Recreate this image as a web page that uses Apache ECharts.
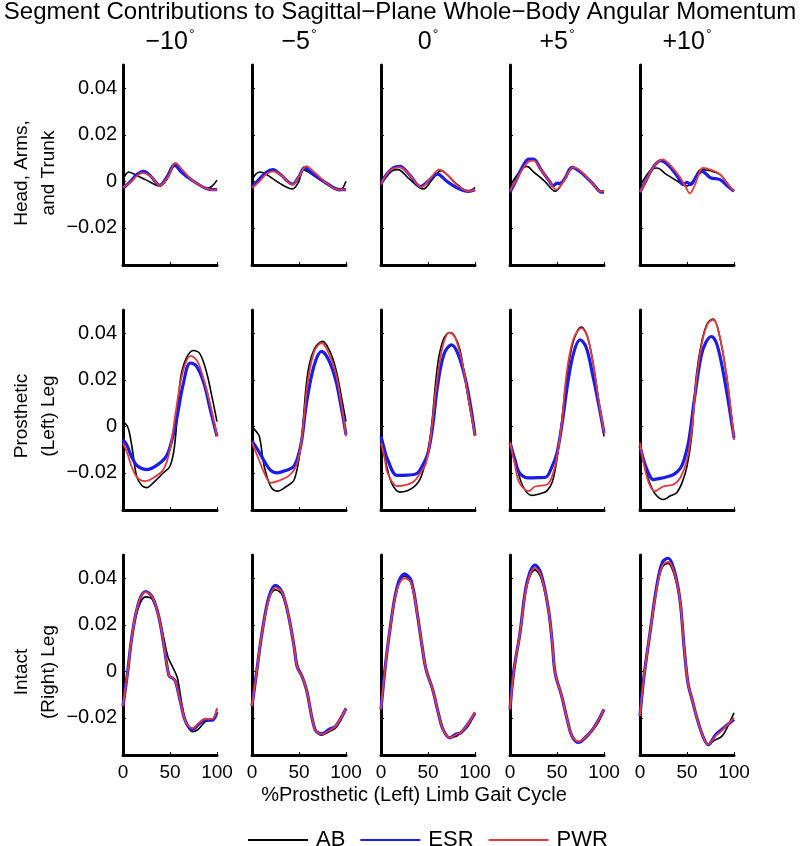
<!DOCTYPE html>
<html><head><meta charset="utf-8">
<script src="https://cdn.jsdelivr.net/npm/echarts@6/dist/echarts.min.js"></script>
<style>html,body{margin:0;padding:0;background:#fff}#c{width:800px;height:846px}</style>
</head><body><div id="c"></div>
<script>
// ---------- labels ----------
const mainTitle = 'Segment Contributions to Sagittal\u2212Plane Whole\u2212Body Angular Momentum';
const colTitles = ['\u221210', '\u22125', '0', '+5', '+10'];
const rowTitles = [['Head, Arms,', 'and Trunk'], ['Prosthetic', '(Left) Leg'], ['Intact', '(Right) Leg']];
const xAxisTitle = '%Prosthetic (Left) Limb Gait Cycle';
const seriesNames = ['AB', 'ESR', 'PWR'];
const yTicks = [-0.02, 0, 0.02, 0.04];
const xTicks = [0, 50, 100];

// ---------- data: [% gait cycle, angular momentum] ----------
// Row 1: Head, Arms, and Trunk
const hat_m10_AB  = [[0,0.0005],[3,0.003],[6,0.004],[12,0.003],[25,0.0005],[39,-0.002],[47,0.001],[55,0.0065],[62,0.004],[75,0.0],[90,-0.003],[95,-0.002],[100,0.0005]];
const hat_m10_ESR = [[0,-0.003],[8,0.0],[15,0.003],[22,0.0043],[30,0.002],[39,-0.0017],[47,0.002],[55,0.0073],[62,0.004],[75,0.0],[88,-0.003],[96,-0.0036],[100,-0.0036]];
const hat_m10_PWR = [[0,-0.0025],[8,-0.0005],[14,0.002],[20,0.0036],[30,0.002],[39,-0.0019],[48,0.002],[56,0.0079],[63,0.005],[75,0.0],[88,-0.003],[96,-0.0038],[100,-0.0036]];
const hat_m5_AB   = [[0,0.0005],[4,0.003],[8,0.004],[15,0.003],[30,-0.001],[43,-0.0033],[50,0.0],[54,0.005],[60,0.004],[75,0.0],[93,-0.004],[100,0.0]];
const hat_m5_ESR  = [[0,-0.0026],[8,0.001],[15,0.0038],[22,0.005],[30,0.003],[43,-0.0012],[50,0.002],[56,0.0059],[65,0.003],[80,-0.001],[92,-0.0035],[100,-0.0036]];
const hat_m5_PWR  = [[0,-0.0029],[8,0.0],[15,0.003],[22,0.0043],[30,0.003],[43,-0.0014],[50,0.002],[58,0.0065],[66,0.004],[80,-0.001],[92,-0.0036],[100,-0.0036]];
const hat_0_AB    = [[0,-0.0014],[6,0.002],[12,0.0045],[18,0.005],[30,0.001],[45,-0.0033],[55,0.001],[64,0.0046],[70,0.003],[80,-0.001],[93,-0.0043],[100,-0.0026]];
const hat_0_ESR   = [[0,-0.001],[6,0.003],[13,0.0058],[20,0.0064],[30,0.003],[42,-0.0023],[50,0.0],[60,0.0031],[70,0.0],[82,-0.003],[93,-0.0043],[100,-0.0036]];
const hat_0_PWR   = [[0,-0.0014],[6,0.003],[13,0.0055],[20,0.006],[30,0.003],[43,-0.0025],[52,0.001],[62,0.005],[70,0.003],[82,-0.002],[93,-0.0043],[100,-0.0036]];
const hat_p5_AB   = [[0,-0.002],[8,0.003],[13,0.0055],[18,0.0064],[25,0.004],[37,0.0],[48,-0.0043],[57,0.0],[67,0.0057],[75,0.004],[88,-0.001],[96,-0.0045],[100,-0.004]];
const hat_p5_ESR  = [[0,-0.0047],[6,0.0],[13,0.006],[20,0.0095],[25,0.0095],[33,0.005],[42,0.0],[46,-0.002],[50,-0.0008],[53,-0.001],[58,0.001],[66,0.006],[75,0.004],[88,-0.001],[96,-0.0045],[100,-0.0047]];
const hat_p5_PWR  = [[0,-0.004],[6,0.0],[13,0.005],[20,0.0085],[25,0.0089],[33,0.005],[42,0.0],[49,-0.0036],[57,0.0],[67,0.006],[75,0.0045],[88,-0.001],[96,-0.0043],[100,-0.0043]];
const hat_p10_AB  = [[0,-0.002],[6,0.002],[12,0.005],[18,0.0057],[28,0.003],[40,0.0],[50,-0.002],[56,0.0],[65,0.005],[75,0.0045],[85,0.003],[93,-0.001],[100,-0.0043]];
const hat_p10_ESR = [[0,-0.0047],[6,0.0],[14,0.006],[22,0.0089],[30,0.007],[40,0.002],[46,-0.0014],[50,-0.0005],[54,-0.0014],[60,0.002],[66,0.0043],[75,0.0015],[85,0.0007],[93,-0.002],[100,-0.0043]];
const hat_p10_PWR = [[0,-0.0047],[6,0.0],[14,0.006],[24,0.0094],[32,0.007],[42,0.002],[48,-0.002],[53,-0.0052],[58,-0.002],[67,0.0057],[75,0.005],[85,0.003],[93,-0.001],[100,-0.0043]];

// Row 2: Prosthetic (Left) Leg
const pro_m10_AB  = [[0,0.0015],[3,0.001],[6,-0.0014],[10,-0.01],[14.5,-0.0215],[20,-0.0255],[25,-0.0264],[33,-0.024],[43,-0.020],[50,-0.0172],[55,-0.008],[61,0.020],[67,0.029],[75,0.0326],[82,0.031],[89,0.023],[95,0.012],[100,0.002]];
const pro_m10_ESR = [[0,-0.0057],[4,-0.008],[9,-0.0129],[15,-0.017],[25,-0.0186],[35,-0.017],[46,-0.0129],[52,-0.006],[57,0.0029],[64,0.018],[71.6,0.0272],[78,0.026],[86,0.0186],[93,0.007],[100,-0.0043]];
const pro_m10_PWR = [[0,-0.0071],[5,-0.012],[9,-0.0172],[15,-0.022],[23,-0.0236],[33,-0.022],[43,-0.0186],[50,-0.01],[57,0.0086],[64,0.024],[72,0.0303],[79,0.028],[86,0.020],[93,0.009],[100,-0.0043]];
const pro_m5_AB   = [[0,0.0],[4,-0.002],[7.8,-0.0043],[13,-0.0172],[20,-0.026],[27,-0.0279],[36,-0.026],[45,-0.0229],[52,-0.008],[59,0.022],[66,0.033],[75,0.0365],[82,0.033],[89,0.025],[95,0.013],[100,0.002]];
const pro_m5_ESR  = [[0,-0.0064],[6,-0.01],[13,-0.015],[20,-0.019],[27,-0.020],[36,-0.019],[45,-0.017],[52,-0.008],[58,0.01],[66,0.026],[74,0.0322],[81,0.029],[89,0.020],[95,0.008],[100,-0.0036]];
const pro_m5_PWR  = [[0,-0.0071],[6,-0.013],[13,-0.020],[20,-0.0243],[28,-0.0235],[40,-0.021],[48,-0.016],[53,-0.005],[59,0.018],[66,0.032],[74,0.0358],[81,0.032],[89,0.023],[95,0.01],[100,-0.0043]];
const pro_0_AB    = [[0,-0.0029],[3,-0.01],[6,-0.0171],[12,-0.025],[20,-0.0283],[34,-0.0264],[43,-0.0214],[52,-0.0057],[60,0.0257],[66,0.037],[73,0.0403],[78,0.039],[84,0.0329],[93,0.0114],[100,-0.004]];
const pro_0_ESR   = [[0,-0.0043],[3,-0.009],[7,-0.0143],[17,-0.0211],[28,-0.021],[38,-0.0203],[44,-0.017],[50,-0.0114],[55,0.0],[60,0.017],[67,0.031],[75,0.035],[82,0.031],[90,0.02],[96,0.007],[100,-0.004]];
const pro_0_PWR   = [[0,-0.0071],[4,-0.014],[7,-0.02],[17,-0.0257],[34,-0.024],[42,-0.02],[48,-0.0157],[53,-0.004],[59,0.018],[66,0.035],[73,0.0403],[79,0.038],[86,0.028],[94,0.01],[100,-0.004]];
const pro_p5_AB   = [[0,-0.0057],[3,-0.011],[7,-0.0172],[14,-0.026],[23,-0.0297],[32,-0.029],[39,-0.0279],[45,-0.024],[50,-0.014],[55,0.002],[60,0.020],[67,0.036],[76,0.0427],[82,0.039],[88,0.028],[94,0.012],[100,-0.0043]];
const pro_p5_ESR  = [[0,-0.007],[5,-0.014],[10,-0.020],[19.5,-0.0222],[30,-0.0221],[38,-0.0219],[45,-0.017],[50,-0.0114],[55,0.0],[62,0.02],[68,0.032],[74.5,0.0372],[81,0.034],[88,0.022],[95,0.008],[100,-0.0029]];
const pro_p5_PWR  = [[0,-0.007],[5,-0.016],[10,-0.0243],[20,-0.0279],[26,-0.026],[33,-0.0255],[40,-0.025],[46,-0.02],[50,-0.013],[55,0.001],[60,0.022],[67,0.037],[76,0.0422],[82,0.039],[88,0.028],[94,0.012],[100,-0.0029]];
const pro_p10_AB  = [[0,-0.007],[4,-0.015],[9,-0.0229],[16,-0.029],[25,-0.0315],[32,-0.030],[39,-0.0286],[45,-0.024],[50,-0.0172],[55,-0.004],[60,0.022],[66,0.037],[72,0.0445],[78,0.0461],[84,0.040],[92,0.022],[100,-0.0057]];
const pro_p10_ESR = [[0,-0.0086],[5,-0.016],[10,-0.021],[14,-0.0229],[20,-0.0225],[28,-0.0218],[36,-0.0207],[43,-0.018],[47,-0.0143],[52,-0.006],[58,0.012],[65,0.03],[70,0.036],[76,0.0386],[82,0.035],[90,0.02],[100,-0.005]];
const pro_p10_PWR = [[0,-0.007],[5,-0.018],[10,-0.025],[15.6,-0.0279],[25,-0.0258],[36,-0.025],[43,-0.022],[49.6,-0.015],[55,-0.002],[60,0.02],[66,0.036],[72,0.044],[78,0.0458],[84,0.040],[92,0.022],[100,-0.0057]];

// Row 3: Intact (Right) Leg
const int_m10_AB  = [[0,-0.015],[5,0.0],[10,0.0164],[17,0.028],[24,0.032],[31,0.031],[38,0.0236],[44,0.013],[48,0.006],[52,0.0025],[55,0.0],[58,-0.003],[63,-0.015],[67,-0.022],[74,-0.026],[80,-0.025],[88,-0.0215],[95,-0.021],[100,-0.016]];
const int_m10_ESR = [[0,-0.015],[5,0.0],[10,0.0164],[17,0.030],[24,0.0343],[31,0.032],[38,0.0236],[44,0.01],[49,-0.002],[53,-0.003],[56,-0.0045],[61,-0.013],[67,-0.022],[74,-0.025],[80,-0.023],[88,-0.0207],[95,-0.021],[100,-0.0175]];
const int_m10_PWR = [[0,-0.015],[5,0.0],[10,0.0164],[17,0.030],[24,0.034],[31,0.032],[38,0.0236],[44,0.01],[49,-0.002],[53,-0.003],[56,-0.0045],[61,-0.013],[67,-0.022],[74,-0.0245],[80,-0.0225],[88,-0.0205],[95,-0.0205],[100,-0.016]];
const int_m5_AB   = [[0,-0.015],[5,0.0],[10.6,0.0164],[18,0.031],[25,0.035],[32,0.033],[39,0.0236],[45,0.01],[48,0.003],[53,-0.002],[58,-0.008],[67,-0.025],[74,-0.0275],[82,-0.026],[90,-0.024],[100,-0.016]];
const int_m5_ESR  = [[0,-0.015],[5,0.0],[10.6,0.0164],[18,0.032],[25,0.037],[32,0.034],[39,0.0236],[45,0.01],[48,0.002],[53,-0.002],[58,-0.008],[67,-0.025],[74,-0.0269],[82,-0.025],[89,-0.0236],[100,-0.016]];
const int_m5_PWR  = [[0,-0.015],[5,0.0],[10.6,0.0164],[18,0.031],[25,0.036],[32,0.034],[39,0.0236],[45,0.01],[48,0.002],[53,-0.002],[58,-0.008],[67,-0.025],[74,-0.027],[82,-0.0255],[89,-0.0236],[100,-0.016]];
const int_0_AB    = [[0,-0.0164],[4,0.0],[9,0.0164],[17,0.035],[25,0.041],[32,0.038],[39,0.0236],[44,0.01],[48,0.0007],[55,-0.0079],[61,-0.018],[66,-0.025],[73,-0.0286],[80,-0.028],[85,-0.0264],[92,-0.024],[100,-0.0179]];
const int_0_ESR   = [[0,-0.0164],[4,0.0],[9,0.0164],[17,0.036],[25,0.0419],[32,0.039],[39,0.0236],[44,0.01],[48,0.0007],[55,-0.0079],[61,-0.018],[66,-0.025],[73,-0.0286],[80,-0.027],[85,-0.0264],[92,-0.023],[100,-0.0179]];
const int_0_PWR   = [[0,-0.0164],[4,0.0],[9,0.0164],[17,0.035],[25,0.040],[32,0.038],[39,0.0236],[44,0.01],[48,0.0007],[55,-0.0079],[61,-0.018],[66,-0.025],[73,-0.0286],[80,-0.0272],[85,-0.0262],[92,-0.023],[100,-0.0175]];
const int_p5_AB   = [[0,-0.0164],[4,0.0],[10.6,0.0164],[18,0.037],[26.6,0.0436],[33,0.040],[41,0.0264],[45,0.012],[48,-0.0007],[55,-0.0107],[61,-0.021],[66,-0.0279],[73,-0.0304],[80,-0.029],[87,-0.0257],[94,-0.022],[100,-0.0164]];
const int_p5_ESR  = [[0,-0.0164],[4,0.0],[10.6,0.0164],[18,0.038],[26.6,0.0457],[33,0.042],[41,0.0264],[45,0.012],[48,-0.0007],[55,-0.0107],[61,-0.021],[66,-0.0279],[73,-0.0306],[80,-0.0285],[87,-0.0255],[94,-0.021],[100,-0.0164]];
const int_p5_PWR  = [[0,-0.0164],[4,0.0],[10.6,0.0164],[18,0.037],[26.6,0.0445],[33,0.041],[41,0.0264],[45,0.012],[48,-0.0007],[55,-0.0107],[61,-0.021],[66,-0.0279],[73,-0.0302],[80,-0.0285],[87,-0.0255],[94,-0.021],[100,-0.0164]];
const int_p10_AB  = [[0,-0.0179],[4,-0.002],[10.6,0.0164],[18,0.036],[24,0.045],[30,0.0464],[36,0.042],[42.5,0.0307],[47,0.01],[51,-0.005],[56,-0.013],[60,-0.0193],[67,-0.028],[72.7,-0.0314],[80,-0.0295],[87,-0.028],[93,-0.024],[100,-0.0179]];
const int_p10_ESR = [[0,-0.0193],[4,-0.003],[10.6,0.0164],[18,0.037],[24,0.047],[30,0.0486],[36,0.044],[42.5,0.0307],[47,0.01],[51,-0.005],[56,-0.013],[60,-0.0193],[67,-0.028],[72.7,-0.0316],[80,-0.0275],[87,-0.025],[93,-0.023],[100,-0.0207]];
const int_p10_PWR = [[0,-0.0193],[4,-0.003],[10.6,0.0164],[18,0.036],[24,0.0455],[30,0.047],[36,0.043],[42.5,0.0307],[47,0.01],[51,-0.005],[56,-0.013],[60,-0.0193],[67,-0.028],[72.7,-0.0314],[80,-0.028],[87,-0.0255],[93,-0.023],[100,-0.02]];

const panels = [
  [[hat_m10_AB,hat_m10_ESR,hat_m10_PWR],[hat_m5_AB,hat_m5_ESR,hat_m5_PWR],[hat_0_AB,hat_0_ESR,hat_0_PWR],[hat_p5_AB,hat_p5_ESR,hat_p5_PWR],[hat_p10_AB,hat_p10_ESR,hat_p10_PWR]],
  [[pro_m10_AB,pro_m10_ESR,pro_m10_PWR],[pro_m5_AB,pro_m5_ESR,pro_m5_PWR],[pro_0_AB,pro_0_ESR,pro_0_PWR],[pro_p5_AB,pro_p5_ESR,pro_p5_PWR],[pro_p10_AB,pro_p10_ESR,pro_p10_PWR]],
  [[int_m10_AB,int_m10_ESR,int_m10_PWR],[int_m5_AB,int_m5_ESR,int_m5_PWR],[int_0_AB,int_0_ESR,int_0_PWR],[int_p5_AB,int_p5_ESR,int_p5_PWR],[int_p10_AB,int_p10_ESR,int_p10_PWR]]
];

// ---------- layout / style ----------
const FONT = 'Liberation Sans, Arial, Helvetica, sans-serif';
const colLeft = [123, 252, 381, 510, 640];
const rowTop = [65, 310, 555];
const plotW = 94, plotH = 200;
const lineColors = ['#000000', '#1c1ce8', '#e23a3e'];
const lineWidths = [1.6, 3.2, 1.8];

const grids = [], xAxes = [], yAxes = [], series = [];
let gi = 0;
for (let r = 0; r < 3; r++) {
  for (let c = 0; c < 5; c++) {
    grids.push({left: colLeft[c], top: rowTop[r], width: plotW, height: plotH});
    xAxes.push({
      type: 'value', gridIndex: gi, min: 0, max: 100, interval: 50,
      axisLine: {onZero: false, lineStyle: {color: '#000', width: 3}},
      axisTick: {show: true, inside: true, length: 3, lineStyle: {color: '#000', width: 1}},
      axisLabel: {show: r === 2, color: '#000', fontSize: 19, fontFamily: FONT, margin: 8,
                  formatter: v => String(v)},
      splitLine: {show: false}
    });
    yAxes.push({
      type: 'value', gridIndex: gi, min: -0.036, max: 0.05,
      axisLine: {show: true, onZero: false, lineStyle: {color: '#000', width: 3}},
      axisTick: {show: true, inside: true, length: 3, customValues: yTicks, lineStyle: {color: '#000', width: 1}},
      axisLabel: {show: c === 0, customValues: yTicks, color: '#000', fontSize: 20, fontFamily: FONT, margin: 6,
                  formatter: v => v === 0 ? '0' : (v < 0 ? '\u2212' + Math.abs(v).toFixed(2) : v.toFixed(2))},
      splitLine: {show: false}
    });
    for (let s = 0; s < 3; s++) {
      series.push({
        name: seriesNames[s], type: 'line', xAxisIndex: gi, yAxisIndex: gi,
        data: panels[r][c][s], smooth: 0.35, symbol: 'none', silent: true,
        lineStyle: {color: lineColors[s], width: lineWidths[s]},
        itemStyle: {color: lineColors[s]}, z: 2 + s
      });
    }
    gi++;
  }
}

const graphics = [];
graphics.push({type: 'text', x: 400, y: 0, style: {text: mainTitle, font: '24px ' + FONT, fill: '#000', align: 'center', verticalAlign: 'top'}});
for (let c = 0; c < 5; c++) {
  graphics.push({type: 'text', x: colLeft[c] + plotW / 2, y: 42,
    style: {text: colTitles[c] + '{d|\u00b0}', fill: '#000', font: '25px ' + FONT, align: 'center', verticalAlign: 'middle',
      rich: {d: {fontSize: 14, fontFamily: FONT, fill: '#000', verticalAlign: 'top', padding: [0, 0, 14, 1]}}}});
}
const rowCenters = [173, 416, 672];
for (let r = 0; r < 3; r++) {
  graphics.push({type: 'text', x: 35, y: rowCenters[r], rotation: Math.PI / 2,
    style: {text: rowTitles[r].join('\n'), fill: '#000', font: '19px ' + FONT, align: 'center', verticalAlign: 'middle', lineHeight: 27}});
}
graphics.push({type: 'text', x: 414, y: 795, style: {text: xAxisTitle, fill: '#000', font: '20px ' + FONT, align: 'center', verticalAlign: 'middle'}});

const chart = echarts.init(document.getElementById('c'), null, {renderer: 'canvas'});
chart.setOption({
  animation: false,
  backgroundColor: '#fff',
  grid: grids, xAxis: xAxes, yAxis: yAxes, series: series,
  legend: {data: seriesNames, left: 242, top: 824, itemWidth: 60, itemHeight: 20, itemGap: 14,
    itemStyle: {opacity: 0},
    textStyle: {color: '#000', fontSize: 22, fontFamily: FONT, padding: [0, 0, 0, 3]}, selectedMode: false},
  graphic: graphics
});
</script></body></html>
